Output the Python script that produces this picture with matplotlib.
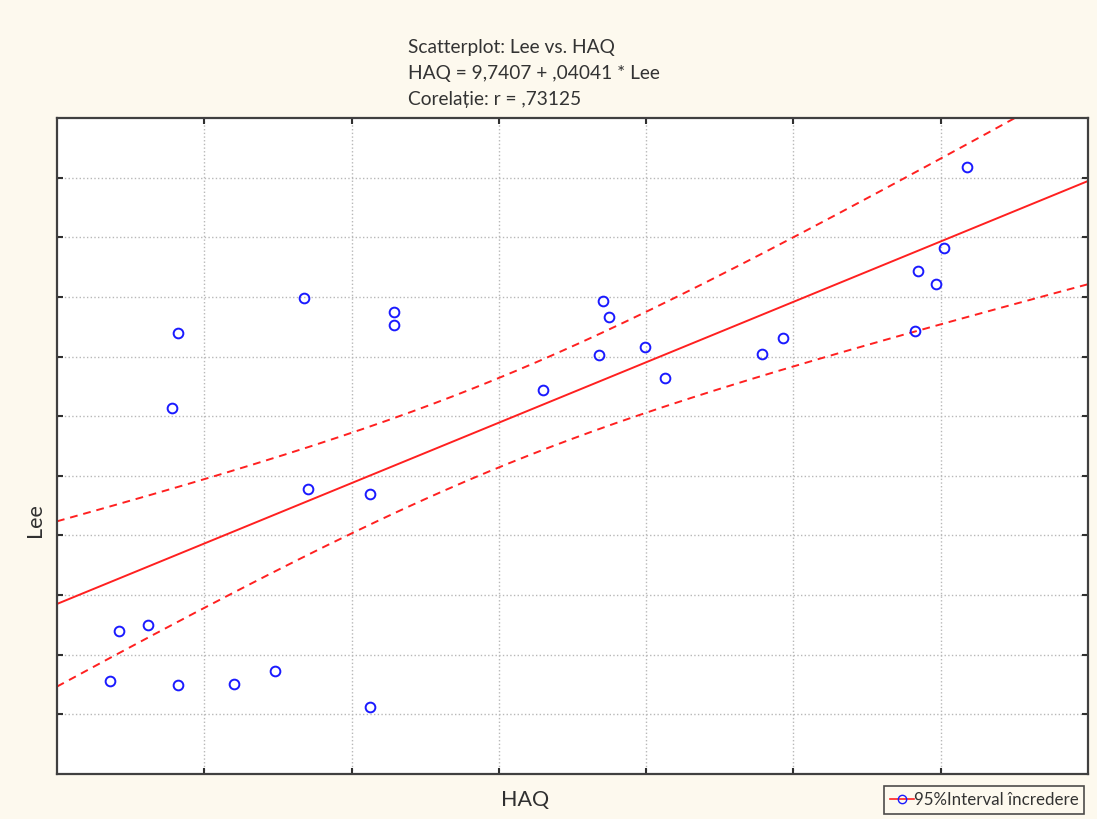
import numpy as np
import matplotlib
matplotlib.use("Agg")
import matplotlib.pyplot as plt
from matplotlib.lines import Line2D

# HAQ (x) and Lee (y) values read off the scatterplot (arbitrary units, no tick labels shown)
haq = [3.60, 4.21, 6.18, 8.21, 7.81, 8.21, 12.02, 14.80, 16.77, 17.04, 21.25, 21.25, 22.88, 22.88,
       32.99, 36.80, 37.07, 37.47, 39.92, 41.28, 47.86, 49.29, 58.25, 58.45, 59.67, 60.22, 61.78]
lee = [15.6, 24.0, 25.0, 14.9, 61.4, 74.0, 15.1, 17.3, 79.8, 47.8, 46.9, 11.2, 77.5, 75.3,
       64.4, 70.3, 79.3, 76.6, 71.6, 66.4, 70.4, 73.1, 74.3, 84.3, 82.2, 88.2, 101.8]

title_lines = ["Scatterplot: Lee vs. HAQ", "HAQ = 9,7407 + ,04041 * Lee", "Corelație: r = ,73125"]
legend_label = "95%Interval încredere"

plt.rcParams['font.family'] = ['Lato', 'DejaVu Sans']

x = np.array(haq)
y = np.array(lee)
n = len(x)

# linear fit + 95% confidence band for the mean
slope, intercept = np.polyfit(x, y, 1)
xs = np.linspace(0, 70, 300)
fit = intercept + slope * xs
resid = y - (intercept + slope * x)
s = np.sqrt(np.sum(resid ** 2) / (n - 2))
sxx = np.sum((x - x.mean()) ** 2)
t_crit = 2.0595  # t(0.975, df=25)
half = t_crit * s * np.sqrt(1.0 / n + (xs - x.mean()) ** 2 / sxx)

fig = plt.figure(figsize=(10.97, 8.19), dpi=100, facecolor='#fdf9ee')
ax = fig.add_axes([57 / 1097, 1 - 774 / 819, 1031 / 1097, 656 / 819])
ax.set_facecolor('white')

ax.plot(xs, fit, color='#ff2020', lw=1.4)
ax.plot(xs, fit + half, color='#ff2020', lw=1.4, ls=(0, (4, 3)))
ax.plot(xs, fit - half, color='#ff2020', lw=1.4, ls=(0, (4, 3)))
ax.plot(x, y, 'o', mfc='none', mec='#1a1aff', mew=1.4, ms=7, ls='none')

ax.set_xlim(0, 70)
ax.set_ylim(0, 110)
ax.set_xticks(np.arange(10, 70, 10))
ax.set_yticks(np.arange(10, 110, 10))
ax.tick_params(direction='in', length=4, width=1.5, color='#303030',
               labelbottom=False, labelleft=False, top=True, right=True)
ax.grid(True, color='#b8b8b8', ls=':', lw=1)
for sp in ax.spines.values():
    sp.set_color('#404040')
    sp.set_linewidth(1.6)

ax.set_xlabel('HAQ', fontsize=15.5, color='#303030')
ax.set_ylabel('Lee', fontsize=15.5, color='#303030')
ax.xaxis.set_label_coords(0.454, -0.040)
ax.yaxis.set_label_coords(-0.021, 0.387)
ax.xaxis.label.set_va('center')
ax.yaxis.label.set_va('center')

for i, line in enumerate(title_lines):
    fig.text(408 / 1097, 1 - (47 + 26 * i) / 819, line, fontsize=13.8, color='#333333',
             ha='left', va='center')

handle = Line2D([], [], color='#ff2020', lw=1.2, marker='o', mfc='none', mec='#1a1aff', ms=6)
leg = fig.legend([handle], [legend_label], loc='upper left', bbox_to_anchor=(884 / 1097, 1 - 786 / 819),
                 frameon=True, fancybox=False, fontsize=12.2, handlelength=1.4, handletextpad=0.0,
                 borderpad=0.35, borderaxespad=0, labelcolor='#333333')
leg.get_frame().set_edgecolor('#202020')
leg.get_frame().set_facecolor('#fdf9ee')
leg.get_frame().set_linewidth(1.2)

fig.savefig('out.png', dpi=100, facecolor=fig.get_facecolor())
